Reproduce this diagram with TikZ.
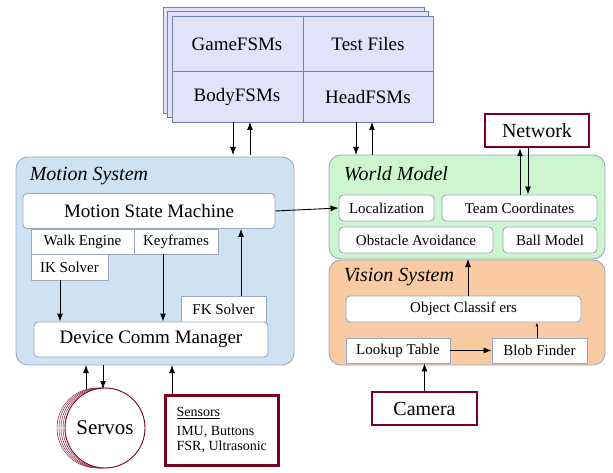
\documentclass[tikz,border=0pt]{standalone}
\usepackage{fontspec}
\setmainfont{Liberation Serif}
\usetikzlibrary{arrows.meta}
\definecolor{motionblue}{RGB}{206,226,242}
\definecolor{worldgreen}{RGB}{206,246,206}
\definecolor{visionorange}{RGB}{250,202,162}
\definecolor{stackblue}{RGB}{226,226,250}
\definecolor{edgeblue}{RGB}{110,130,170}
\definecolor{darkred}{RGB}{120,0,30}
\tikzset{
  >={Latex[length=8pt,width=6pt]},
  every path/.style={line width=0.9pt},
  sysbox/.style={draw=edgeblue!70, rounded corners=12pt},
  modbox/.style={draw=edgeblue!70, fill=white, rounded corners=4pt, font=\fontsize{15}{17}\selectfont},
  subbox/.style={draw=edgeblue!70, fill=white, font=\fontsize{15}{17}\selectfont},
  extbox/.style={draw=darkred, line width=2.5pt, fill=white},
  stackbox/.style={draw=edgeblue, fill=stackblue},
}
\begin{document}
\begin{tikzpicture}[x=1pt,y=-1pt]
\useasboundingbox (0,0) rectangle (613,473);

% behaviours stack
\foreach \d in {9,5}
  \draw[stackbox] (172-\d,16-\d) rectangle (433-\d,122-\d);
\draw[stackbox] (172,16) rectangle (433,122);
\draw[edgeblue] (303,16) -- (303,122) (172,71) -- (433,71);
\node[font=\fontsize{19}{21}\selectfont] (game) at (237,44) {GameFSMs};
\node[font=\fontsize{19}{21}\selectfont] (test) at (368,44) {Test Files};
\node[font=\fontsize{19}{21}\selectfont] (body) at (237,97) {BodyFSMs};
\node[font=\fontsize{19}{21}\selectfont] (head) at (368,97) {HeadFSMs};

% motion system
\draw[sysbox, fill=motionblue] (16,157) rectangle (294,365);
\node[anchor=west, font=\fontsize{20}{22}\selectfont\itshape] (mtitle) at (26,176) {Motion System};
\node[modbox, minimum width=252, minimum height=35] (msm) at (149,211) {\fontsize{19}{21}\selectfont Motion State Machine};
\node[subbox, minimum width=103, minimum height=25] (walk) at (82.5,241.5) {Walk Engine};
\node[subbox, minimum width=84, minimum height=25] (key) at (176,241.5) {Keyframes};
\node[subbox, minimum width=77, minimum height=26] (ik) at (69.5,267) {IK Solver};
\node[subbox, minimum width=85, minimum height=26] (fk) at (223.5,309) {FK Solver};
\node[modbox, minimum width=234, minimum height=35] (dcm) at (151,339.5) {\fontsize{19}{21}\selectfont Device Comm Manager};
\draw[->] (ik.south -| 60,0) -- (dcm.north -| 60,0);
\draw[->] (key.south -| 163,0) -- (dcm.north -| 163,0);
\draw[->] (fk.north -| 241,0) -- (msm.south -| 241,0);

% world model
\draw[sysbox, fill=worldgreen] (329,155) rectangle (605,259);
\node[anchor=west, font=\fontsize{20}{22}\selectfont\itshape] (wtitle) at (340,174) {World Model};
\node[modbox, minimum width=95, minimum height=26] (loc) at (386.5,208) {Localization};
\node[modbox, minimum width=155, minimum height=26] (team) at (519.5,208) {Team Coordinates};
\node[modbox, minimum width=154, minimum height=26] (obst) at (416,240) {Obstacle Avoidance};
\node[modbox, minimum width=94, minimum height=26] (ball) at (550,240) {Ball Model};
\coordinate (wmbot) at (468,259);

% vision system
\draw[sysbox, fill=visionorange] (329,260) rectangle (605,365);
\node[anchor=west, font=\fontsize{20}{22}\selectfont\itshape] (vtitle) at (340,277) {Vision System};
\node[modbox, minimum width=235, minimum height=26] (obj) at (463.5,309) {Object Classif ers};
\node[subbox, minimum width=104, minimum height=25] (look) at (398,350.5) {Lookup Table};
\node[subbox, minimum width=95, minimum height=25] (blob) at (539.5,350.5) {Blob Finder};
\draw[->] (look) -- (blob);
\draw[->, >={Latex[length=4pt,width=3pt]}] (blob.north -| 537,0) -- (obj.south -| 537,0);
\draw[->] (obj.north -| 468,0) -- (wmbot);

% external devices
\node[extbox, minimum width=104, minimum height=33, font=\fontsize{20}{22}\selectfont] (net) at (537,130.5) {Network};
\node[extbox, minimum width=105, minimum height=33, font=\fontsize{20}{22}\selectfont] (cam) at (424.5,408.5) {Camera};
\node[extbox, minimum width=113, minimum height=70, anchor=north west, align=left,
      font=\fontsize{14}{15}\selectfont, inner sep=5pt] (sens) at (164,394)
      {\underline{Sensors}\\[4pt]IMU, Buttons\\FSR, Ultrasonic};
\foreach \d in {8,6,4,2}
  \draw[darkred, fill=white, thin] (105-\d,428) circle (40);
\node[draw=darkred, fill=white, circle, minimum size=80, font=\fontsize{21}{23}\selectfont] (servo) at (105,428) {Servos};

% connections
\draw[->] (233,122) -- (233,155);
\draw[<-] (250,122) -- (250,155);
\draw[->] (356,122) -- (356,155);
\draw[<-] (372,122) -- (372,155);
\draw[->] (msm.east) -- (loc.west);
\draw[->] (team.north -| 520,0) -- (net.south -| 520,0);
\draw[->] (net.south -| 528,0) -- (team.north -| 528,0);
\draw[->] (cam.north) -- (look.south -| cam.north);
\draw[->] (86,389) -- (86,365);
\draw[->] (103,365) -- (103,389);
\draw[->] (sens.north -| 172,0) -- (172,365);
\end{tikzpicture}
\end{document}
